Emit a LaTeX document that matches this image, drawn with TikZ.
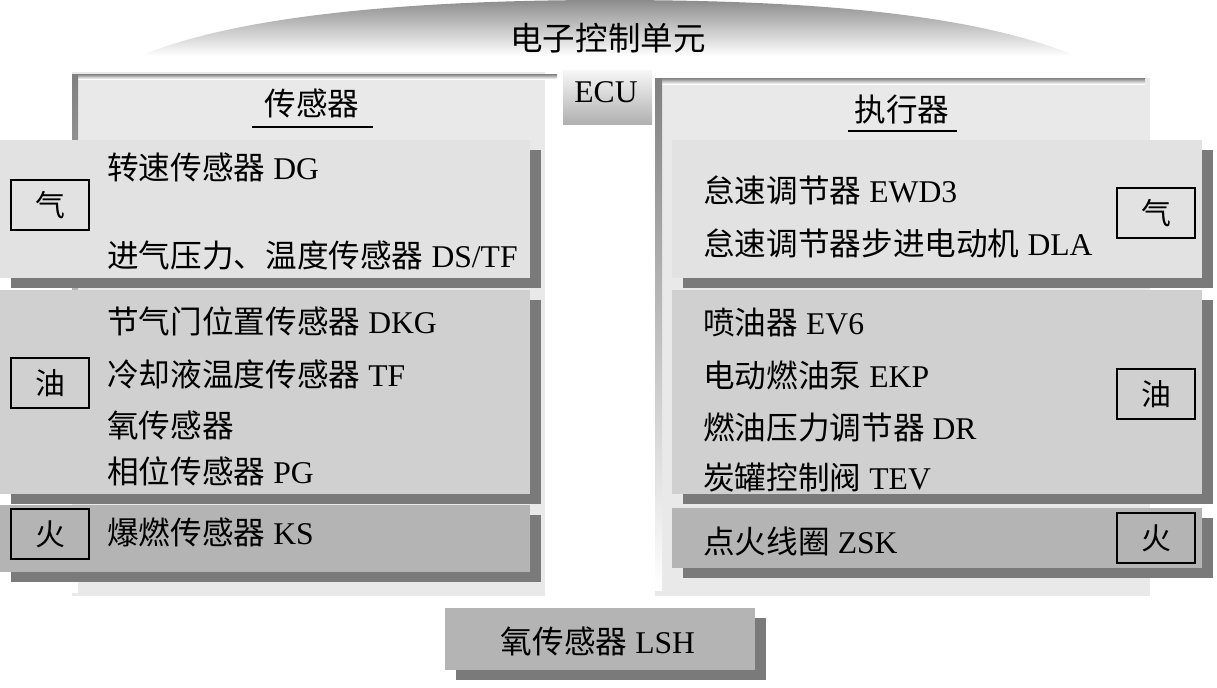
\documentclass[tikz,border=0pt]{standalone}
\usepackage{fontspec}
\setmainfont{Liberation Serif}
\newfontfamily\cjk{Noto Sans CJK SC}
\newcommand{\zh}[1]{{\cjk #1}}
\usetikzlibrary{positioning, shadows}
\definecolor{panqi}{RGB}{226,226,226}
\definecolor{panyou}{RGB}{208,208,208}
\definecolor{panhuo}{RGB}{180,180,180}
\definecolor{panhead}{RGB}{233,233,233}
\definecolor{shade}{RGB}{122,122,122}

\begin{document}
\begin{tikzpicture}[
  x=0.02cm, y=-0.02cm,
  font=\fontsize{18}{20}\selectfont,
  panel/.style={drop shadow={shadow xshift=0.22cm, shadow yshift=-0.2cm,
                fill=shade, opacity=1}},
  tag/.style={draw=black, line width=0.9pt, minimum width=1.56cm,
              minimum height=1.0cm, inner sep=0pt, font=\fontsize{17}{18}\selectfont},
  item/.style={anchor=west, inner sep=0pt},
  head/.style={inner sep=0pt},
  uline/.style={line width=1.3pt},
]
\useasboundingbox (0,0) rectangle (1217,687);

% dome and title
\shade[top color=black!45, bottom color=white]
  (140,56) .. controls (240,14) and (420,0) .. (608,0)
  .. controls (800,0) and (970,12) .. (1076,56) -- cycle;
\node[head, font=\fontsize{18.5}{20}\selectfont] (title) at (608,38) {\zh{电子控制单元}};

% header panels
\fill[panhead] (72,72) rectangle (545,596);
\fill[shade] (72,74) rectangle (557,79);
\fill[shade] (72,74) rectangle (78,592);
\fill[panhead] (655,78) rectangle (1150,596);
\fill[shade] (655,78) rectangle (1145,84);
\fill[shade] (655,78) rectangle (662,590);

% ECU
\shade[top color=gray!6, bottom color=gray!62] (563,70) rectangle (652,124);
\node[head] (ecu) at (606,92) {ECU};

\node[head] (hdL) at (312,103) {\zh{传感器}};
\draw[uline] (252,127) -- (373,127);
\node[head] (hdR) at (902,110) {\zh{执行器}};
\draw[uline] (848,131) -- (957,131);

% sensor side
\path[panel, fill=panqi] (0,140) rectangle (530,278);
\path[panel, fill=panyou] (0,290) rectangle (530,494);
\path[panel, fill=panhuo] (0,505) rectangle (530,572);

\node[tag] (qiL) at (50,205) {\zh{气}};
\node[tag] (youL) at (50,383) {\zh{油}};
\node[tag] (huoL) at (50,534) {\zh{火}};

\node[item] (dg) at (107,167) {\zh{转速传感器} DG};
\node[item] (ds) at (107,255) {\zh{进气压力、温度传感器} DS/TF};
\node[item] (dkg) at (107,321) {\zh{节气门位置传感器} DKG};
\node[item] (tf) at (107,374) {\zh{冷却液温度传感器} TF};
\node[item] (o2) at (107,425) {\zh{氧传感器}};
\node[item] (pg) at (107,471) {\zh{相位传感器} PG};
\node[item] (ks) at (107,532) {\zh{爆燃传感器} KS};

% actuator side
\path[panel, fill=panqi] (672,140) rectangle (1202,278);
\path[panel, fill=panyou] (672,290) rectangle (1202,494);
\path[panel, fill=panhuo] (672,508) rectangle (1202,568);

\node[tag] (qiR) at (1156,213) {\zh{气}};
\node[tag] (youR) at (1156,394) {\zh{油}};
\node[tag] (huoR) at (1156,538) {\zh{火}};

\node[item] (ewd) at (703,190) {\zh{怠速调节器} EWD3};
\node[item] (dla) at (703,243) {\zh{怠速调节器步进电动机} DLA};
\node[item] (ev) at (703,323) {\zh{喷油器} EV6};
\node[item] (ekp) at (703,375) {\zh{电动燃油泵} EKP};
\node[item] (dr) at (703,427) {\zh{燃油压力调节器} DR};
\node[item] (tev) at (703,477) {\zh{炭罐控制阀} TEV};
\node[item] (zsk) at (703,541) {\zh{点火线圈} ZSK};

% lambda probe
\path[panel, fill=panhuo] (445,608) rectangle (755,670);
\node[head] (lsh) at (598,641) {\zh{氧传感器} LSH};
\end{tikzpicture}
\end{document}
